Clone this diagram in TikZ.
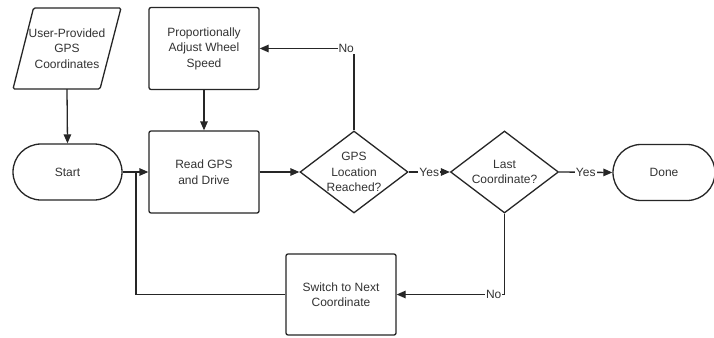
\documentclass[tikz,border=0pt]{standalone}
\usepackage{fontspec}
\setmainfont{Liberation Sans}
\usetikzlibrary{arrows.meta,shapes.geometric}
\begin{document}
\begin{tikzpicture}[x=1pt,y=-1pt,
  ln/.style={line width=1.3pt,draw=black!85},
  arr/.style={ln,-{Triangle[length=9pt,width=7.5pt]}},
  txt/.style={font=\fontsize{12}{15.5}\selectfont,align=center,text=black!80,inner sep=0pt},
  boxn/.style={ln,txt,rectangle,rounded corners=2pt,minimum width=110pt,minimum height=82pt},
  term/.style={ln,txt,rectangle,rounded corners=28pt,minimum height=56pt},
  dia/.style={ln,diamond,inner sep=0pt,minimum width=108pt,minimum height=82pt},
  lbl/.style={font=\fontsize{12}{14}\selectfont,text=black!80,fill=white,inner sep=1pt}]
\clip (0,0) rectangle (714,337);
\fill[white] (0,0) rectangle (714,337);
% input parallelogram
\node[txt,minimum width=60pt,minimum height=81pt] (src) at (67,48.5) {User-Provided\\GPS\\Coordinates};
\draw[ln,rounded corners=1.5pt] (13,89) -- (33.5,8) -- (121,8) -- (100,89) -- cycle;
% terminals and boxes
\node[term,minimum width=109pt] (start) at (67.5,172) {Start};
\node[boxn] (prop) at (204,48.5) {Proportionally\\Adjust Wheel\\Speed};
\node[boxn] (read) at (204,172) {Read GPS\\and Drive};
\node[dia] (d1) at (354,172) {};
\node[txt] (d1t) at (354,172) {GPS\\Location\\Reached?};
\node[dia] (d2) at (504.5,172) {};
\node[txt] (d2t) at (504.5,172) {Last\\Coordinate?};
\node[term,minimum width=102pt] (done) at (664,172.5) {Done};
\node[boxn,minimum height=81pt] (sw) at (341,294.5) {Switch to Next\\Coordinate};
\coordinate (j) at (136,172);
% connectors
\draw[arr] (src.south) -- (start.north);
\draw[arr] (prop.south) -- (read.north);
\draw[arr] (start.east) -- (read.west);
\draw[arr] (read.east) -- (d1.west);
\draw[arr] (d1.east) -- node[lbl] {Yes} (d2.west);
\draw[arr] (d2.east) -- node[lbl] {Yes} (done.west);
\draw[arr] (d1.north) |- node[lbl,pos=0.5,anchor=east,xshift=1.5pt] {No} (prop.east);
\draw[arr] (d2.south) |- node[lbl,pos=0.5,anchor=east,xshift=-1.5pt] {No} (sw.east);
\draw[ln] (sw.west) -| (j);
\end{tikzpicture}
\end{document}
